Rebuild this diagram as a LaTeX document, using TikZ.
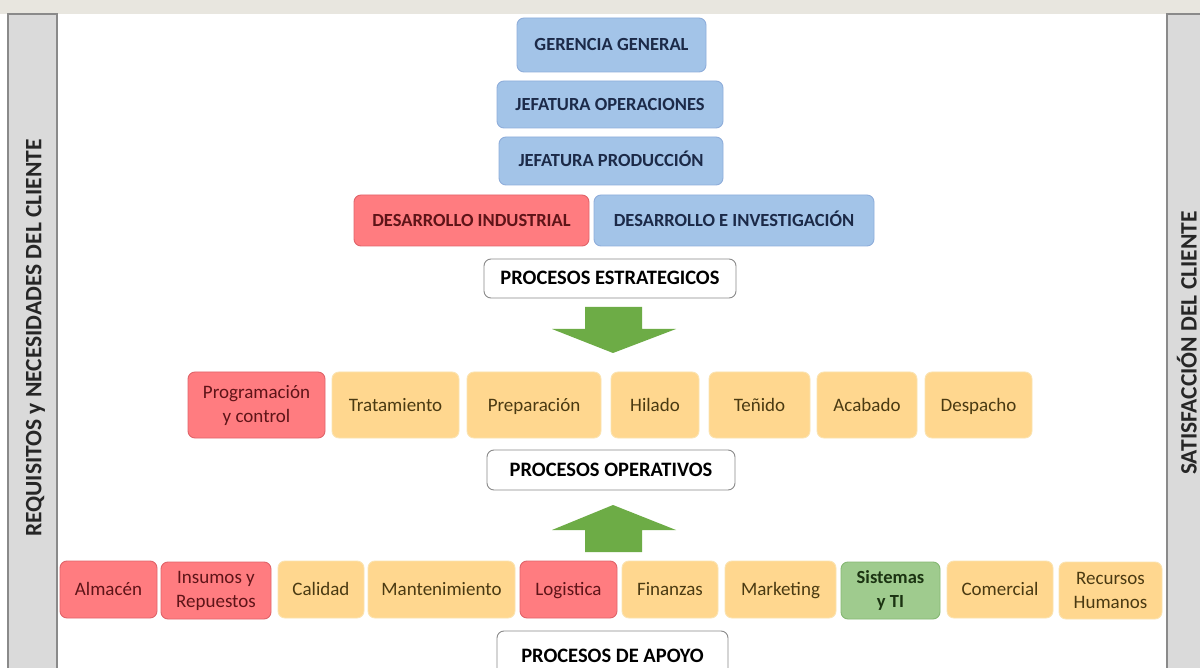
\documentclass[tikz,border=0pt]{standalone}
\usepackage{fontspec}
\setmainfont{Carlito}
\definecolor{bfill}{HTML}{A3C4E8}
\definecolor{bdraw}{HTML}{8FAEDB}
\definecolor{btext}{HTML}{1C2A48}
\definecolor{rfill}{HTML}{FF7C80}
\definecolor{rdraw}{HTML}{E0646A}
\definecolor{rtext}{HTML}{5E1418}
\definecolor{ofill}{HTML}{FFD78F}
\definecolor{odraw}{HTML}{FBE3B0}
\definecolor{otext}{HTML}{4A3A12}
\definecolor{gfill}{HTML}{9FCB8E}
\definecolor{gdraw}{HTML}{86B874}
\definecolor{gtext}{HTML}{1B3312}
\definecolor{arrowgreen}{HTML}{6DAC46}
\definecolor{barfill}{HTML}{DADADA}
\definecolor{bardraw}{HTML}{8A8A8A}
\definecolor{topstrip}{HTML}{E8E6DF}
\tikzset{
  box/.style={rounded corners=7pt, draw, line width=0.9pt, inner sep=0pt, align=center},
  oneline/.style={text height=12pt, text depth=0pt},
  bluebox/.style={box, oneline, fill=bfill, draw=bdraw, text=btext, font=\bfseries\fontsize{18.5}{21}\selectfont},
  redbox/.style={box, fill=rfill, draw=rdraw, text=rtext, font=\fontsize{19}{24}\selectfont},
  redboldbox/.style={box, oneline, fill=rfill, draw=rdraw, text=rtext, font=\bfseries\fontsize{18.5}{21}\selectfont},
  orabox/.style={box, fill=ofill, draw=odraw, text=otext, font=\fontsize{19}{24}\selectfont},
  grnbox/.style={box, fill=gfill, draw=gdraw, text=gtext, font=\bfseries\fontsize{18.5}{24}\selectfont},
  headbox/.style={box, oneline, fill=white, draw=bardraw, text=black, font=\bfseries\fontsize{20.5}{22}\selectfont},
  sidetext/.style={rotate=90, inner sep=0pt, text height=15pt, text depth=0pt, text=black!85, font=\bfseries\fontsize{23.5}{26}\selectfont},
  blockarrow/.style={fill=arrowgreen, draw=none}
}
\begin{document}
\begin{tikzpicture}[x=1pt,y=-1pt]
\useasboundingbox (0,0) rectangle (1200,668);
\clip (0,0) rectangle (1200,668);
\fill[white] (0,0) rectangle (1200,668);
\fill[topstrip] (0,0) rectangle (1200,14);
% side bars
\draw[fill=barfill, draw=bardraw, line width=1.2pt] (8,14) rectangle (57,690);
\draw[fill=barfill, draw=bardraw, line width=1.2pt] (1167,14) rectangle (1215,690);
\node[sidetext] (req) at (34,338) {REQUISITOS y NECESIDADES DEL CLIENTE};
\node[sidetext] (sat) at (1189,343) {SATISFACCIÓN DEL CLIENTE};
% strategic
\node[bluebox, minimum width=189pt, minimum height=54pt] (gg) at (611.5,45) {GERENCIA GENERAL};
\node[bluebox, minimum width=226pt, minimum height=47pt] (jo) at (610,104.5) {JEFATURA OPERACIONES};
\node[bluebox, minimum width=224pt, minimum height=48pt] (jp) at (611,161) {JEFATURA PRODUCCIÓN};
\node[redboldbox, minimum width=235pt, minimum height=51pt] (di) at (471.5,220.5) {DESARROLLO INDUSTRIAL};
\node[bluebox, minimum width=280pt, minimum height=51pt] (de) at (734,220.5) {DESARROLLO E INVESTIGACIÓN};
\node[headbox, minimum width=252pt, minimum height=39pt] (pe) at (610,278.5) {PROCESOS ESTRATEGICOS};
% down arrow
\fill[blockarrow] (585,307) -- (642,307) -- (642,329) -- (676,329) -- (613,353) -- (552,329) -- (585,329) -- cycle;
% operative
\node[redbox, minimum width=137pt, minimum height=66pt] (pc) at (256.5,405) {Programación\\y control};
\node[orabox, oneline, minimum width=127pt, minimum height=66pt] (tr) at (395.5,405) {Tratamiento};
\node[orabox, oneline, minimum width=134pt, minimum height=66pt] (pr) at (534,405) {Preparación};
\node[orabox, oneline, minimum width=88pt, minimum height=66pt] (hi) at (655,405) {Hilado};
\node[orabox, oneline, minimum width=101pt, minimum height=66pt] (te) at (759.5,405) {Teñido};
\node[orabox, oneline, minimum width=100pt, minimum height=66pt] (ac) at (867,405) {Acabado};
\node[orabox, oneline, minimum width=107pt, minimum height=66pt] (dp) at (978.5,405) {Despacho};
\node[headbox, minimum width=248pt, minimum height=40pt] (po) at (611,470) {PROCESOS OPERATIVOS};
% up arrow
\fill[blockarrow] (585,552) -- (642,552) -- (642,530) -- (676,530) -- (613,505) -- (552,530) -- (585,530) -- cycle;
% support
\node[redbox, oneline, minimum width=97pt, minimum height=57pt] (al) at (108.5,589.5) {Almacén};
\node[redbox, minimum width=110pt, minimum height=57pt] (in) at (216,590.5) {Insumos y\\Repuestos};
\node[orabox, oneline, minimum width=86pt, minimum height=57pt] (ca) at (321,589.5) {Calidad};
\node[orabox, oneline, minimum width=147pt, minimum height=57pt] (ma) at (441.5,589.5) {Mantenimiento};
\node[redbox, oneline, minimum width=97pt, minimum height=57pt] (lo) at (568.5,589.5) {Logistica};
\node[orabox, oneline, minimum width=96pt, minimum height=57pt] (fi) at (670,589.5) {Finanzas};
\node[orabox, oneline, minimum width=111pt, minimum height=57pt] (mk) at (780.5,589.5) {Marketing};
\node[grnbox, minimum width=99pt, minimum height=57pt] (si) at (890.5,590.5) {Sistemas\\y TI};
\node[orabox, oneline, minimum width=106pt, minimum height=57pt] (co) at (1000,589.5) {Comercial};
\node[orabox, minimum width=103pt, minimum height=57pt] (rh) at (1110.5,590.5) {Recursos\\Humanos};
\node[headbox, minimum width=231pt, minimum height=50pt] (pa) at (612.5,656) {PROCESOS DE APOYO};
\end{tikzpicture}
\end{document}
